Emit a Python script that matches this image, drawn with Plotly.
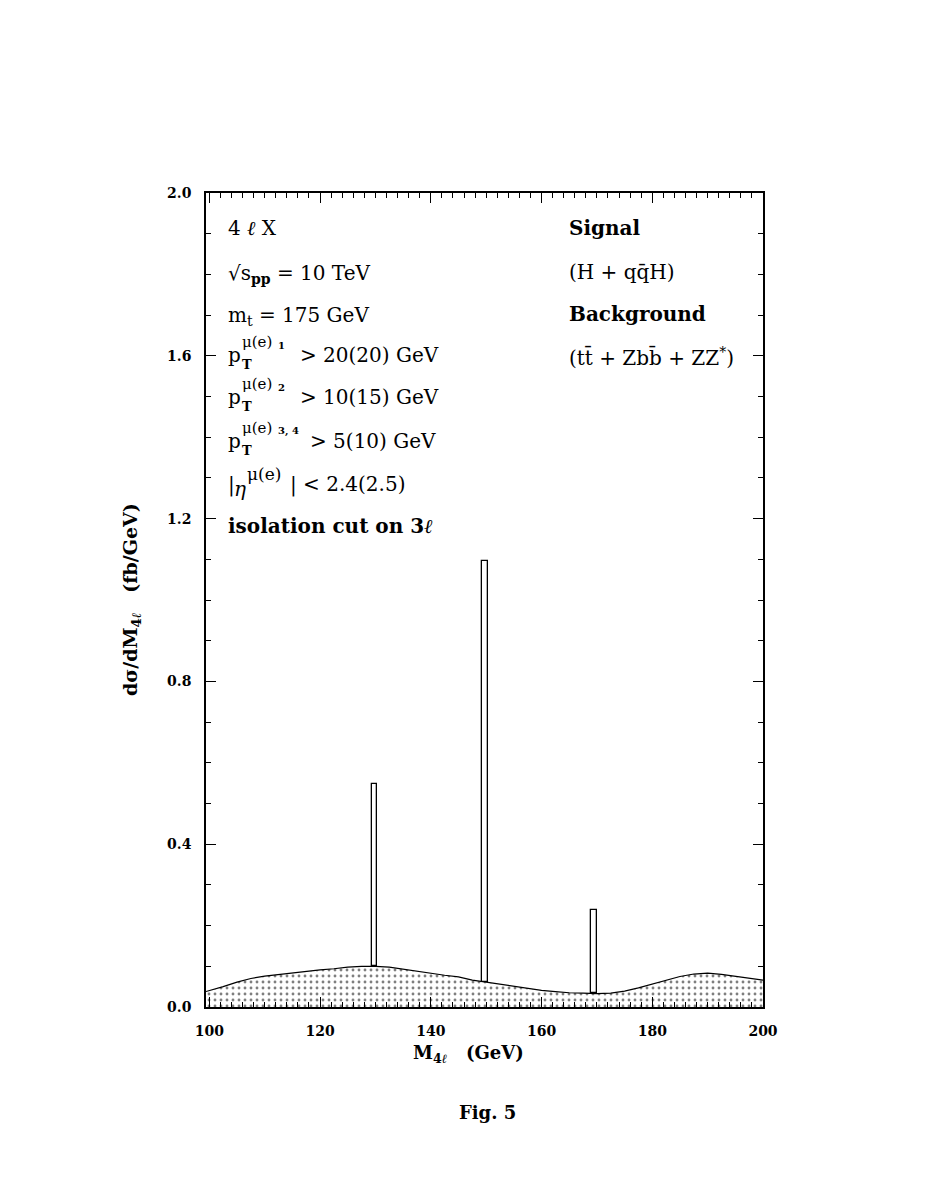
import numpy as np
import plotly.graph_objects as go

# ---- data ----
bg_mass = [99.4, 100, 102.5, 105, 107.5, 110, 112.5, 115, 117.5, 120, 122.5, 125, 127.5,
           130, 132.5, 135, 137.5, 140, 142.5, 145, 147.5, 150, 152.5, 155, 157.5, 160,
           162.5, 165, 167.5, 170, 172.5, 175, 177.5, 180, 182.5, 185, 187.5, 190, 192.5,
           195, 197.5, 200]
bg_xsec = [0.038, 0.040, 0.050, 0.061, 0.070, 0.076, 0.080, 0.084, 0.088, 0.091, 0.094,
           0.098, 0.100, 0.100, 0.098, 0.093, 0.088, 0.082, 0.078, 0.074, 0.066, 0.061,
           0.056, 0.051, 0.046, 0.041, 0.038, 0.035, 0.034, 0.033, 0.034, 0.039, 0.047,
           0.056, 0.066, 0.075, 0.081, 0.083, 0.080, 0.075, 0.070, 0.066]
sig_mass = [129.8, 149.8, 169.5]          # Higgs mass bins (1 GeV wide)
sig_total = [0.547, 1.097, 0.238]         # signal + background (fb/GeV)
bin_width = 1.0

x_ticks = [100, 120, 140, 160, 180, 200]
y_ticks = [0.0, 0.4, 0.8, 1.2, 1.6, 2.0]

# ---- layout geometry (pixels, reference coordinates) ----
OFF = 8                       # page body margin
W, H = 927 - 2 * OFF, 1199 - 2 * OFF
L, R, T, B = 206, 763, 193, 1007

def px(x):
    return (x - L) / (R - L)

def py(y):
    return (B - y) / (B - T)

FONT = "DejaVu Serif"

fig = go.Figure()

# background: dotted filled histogram
fig.add_trace(go.Scatter(
    x=bg_mass, y=bg_xsec, mode="lines",
    line=dict(color="black", width=1.2),
    fill="tozeroy",
    fillcolor="white",
    fillpattern=dict(shape=".", size=6, solidity=0.18, fgcolor="black", bgcolor="white"),
    showlegend=False, hoverinfo="skip",
))

# signal bars stacked on background
sig_base = list(np.interp(sig_mass, bg_mass, bg_xsec))
fig.add_trace(go.Bar(
    x=sig_mass, y=[t - b for t, b in zip(sig_total, sig_base)], base=sig_base,
    width=bin_width, marker=dict(color="white", line=dict(color="black", width=1.3)),
    showlegend=False, hoverinfo="skip",
))

axis_common = dict(
    showline=True, linecolor="black", linewidth=1.5, mirror="allticks",
    ticks="inside", ticklen=10, tickwidth=1.2, tickcolor="black",
    showgrid=False, zeroline=False,
    tickfont=dict(family=FONT, size=14, color="black", weight="bold"),
    ticklabelstandoff=10,
)

fig.update_xaxes(
    range=[99.4, 200.0], tickvals=x_ticks, ticktext=[str(v) for v in x_ticks],
    minor=dict(dtick=2, tick0=100, ticklen=5, ticks="inside", tickcolor="black", tickwidth=1),
    **axis_common,
)
fig.update_yaxes(
    range=[0, 2.0], tickvals=y_ticks, ticktext=[f"{v:.1f}" for v in y_ticks],
    minor=dict(dtick=0.1, tick0=0, ticklen=5, ticks="inside", tickcolor="black", tickwidth=1),
    **axis_common,
)

ann = []

def add(text, x, y, size=20, bold=False, xanchor="left", yanchor="middle", angle=0):
    ann.append(dict(
        text=text, x=px(x), y=py(y), xref="paper", yref="paper",
        xanchor=xanchor, yanchor=yanchor, showarrow=False, textangle=angle,
        font=dict(family=FONT, size=size, color="black", weight="bold" if bold else "normal"),
    ))

# left block
add("4 <i>ℓ</i> X", 226, 228)
add("√s<sub><b>pp</b></sub> = 10 TeV", 226, 274)
add("m<sub>t</sub> = 175 GeV", 226, 316)

pt_rows = [(355, "1", "> 20(20) GeV", 298),
           (397, "2", "> 10(15) GeV", 298),
           (441, "3, 4", "> 5(10) GeV", 308)]
for yy, idx, rest, xr in pt_rows:
    add("p", 226, yy)
    add("T", 240, yy + 9, size=13, bold=True)
    add("μ(e)", 240, yy - 13, size=15)
    add(idx, 276, yy - 10, size=10, bold=True)
    add(rest, xr, yy)

add("|", 226, 484)
add("<i>η</i>", 232, 489)
add("μ(e)", 245, 474, size=17)
add("| < 2.4(2.5)", 288, 484)
add("isolation cut on 3<i>ℓ</i>", 226, 526, bold=True)

# right block
add("Signal", 567, 228, bold=True)
add("(H + qq̄H)", 567, 272)
add("Background", 567, 314, bold=True)
add("(tt̄ + Zbb̄ + ZZ<sup>*</sup>)", 567, 357)

# axis titles
add("dσ/dM<sub>4<i>ℓ</i></sub>   (fb/GeV)", 131, 600, size=19, bold=True,
    xanchor="center", angle=-90)
add("M<sub>4<i>ℓ</i></sub>   (GeV)", 468, 1054, size=18, bold=True, xanchor="center")
add("Fig. 5", 487, 1112, size=18, bold=True, xanchor="center")

fig.update_layout(
    width=W, height=H,
    margin=dict(l=L - OFF, r=(927 - OFF) - R, t=T - OFF, b=(1199 - OFF) - B, pad=0),
    paper_bgcolor="white", plot_bgcolor="white",
    annotations=ann, bargap=0, showlegend=False,
)

fig.write_html("out.html")
